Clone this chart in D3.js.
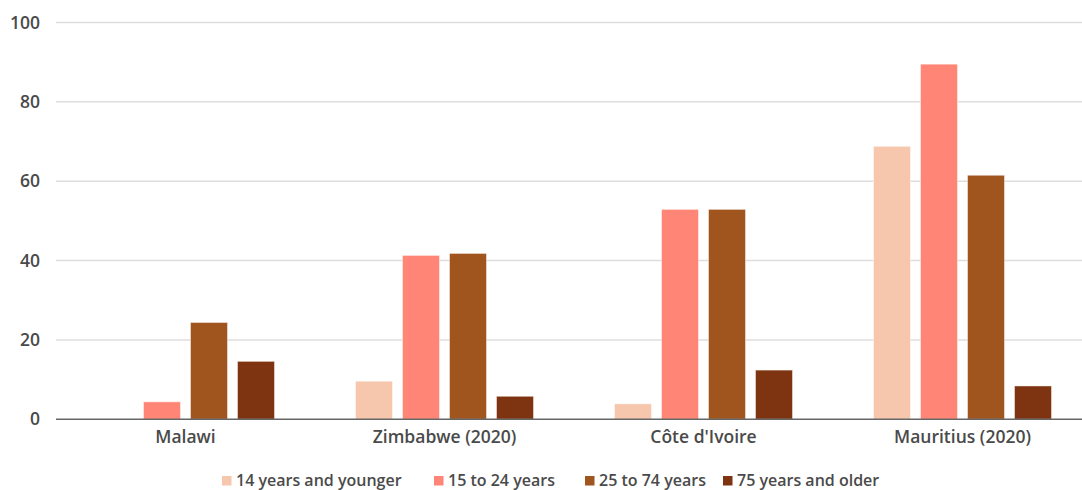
<!DOCTYPE html>
<html><head><meta charset="utf-8">
<script src="https://cdn.jsdelivr.net/npm/d3@7"></script>
<style>
body{margin:0;background:#fff;}
svg{display:block;font-family:"Open Sans",Lato,sans-serif;}
</style></head>
<body><svg id="c" width="1082" height="490"></svg>
<script>
const categories = ["Malawi", "Zimbabwe (2020)", "Côte d'Ivoire", "Mauritius (2020)"];
const seriesNames = ["14 years and younger", "15 to 24 years", "25 to 74 years", "75 years and older"];
const seriesColors = ["#F6C7AD", "#FF8676", "#A0541E", "#7F3411"];
const age14 = [0, 9.6, 3.9, 68.8];
const age15to24 = [4.4, 41.3, 52.9, 89.5];
const age25to74 = [24.4, 41.8, 52.9, 61.5];
const age75 = [14.6, 5.8, 12.4, 8.4];
const yTicks = [0, 20, 40, 60, 80, 100];

const seriesValues = [age14, age15to24, age25to74, age75];
const svg = d3.select("#c");
const mLeft = 56, mRight = 1092, mTop = 22.5, mBottom = 419.3;
const FONT = "'Open Sans', Lato, sans-serif";
const TXT = "#4a4a4a";

const x0 = d3.scaleBand().domain(categories).range([mLeft, mRight]).padding(0);
const x1 = d3.scaleBand().domain(seriesNames).range([x0.bandwidth()/2 - 94, x0.bandwidth()/2 + 94]).paddingInner(10/47).paddingOuter(5/47);
const y = d3.scaleLinear().domain([0, 100]).range([mBottom, mTop]);

// grid
svg.append("g").selectAll("line").data(yTicks.filter(d => d > 0)).join("line")
  .attr("x1", mLeft).attr("x2", 1082)
  .attr("y1", d => y(d)).attr("y2", d => y(d))
  .attr("stroke", "#dedede").attr("stroke-width", 1.5);

// y axis labels
const yAxis = d3.axisLeft(y).tickValues(yTicks).tickSize(0).tickPadding(0).tickFormat(d3.format("d"));
const ya = svg.append("g").attr("transform", `translate(40,0)`).call(yAxis);
ya.select(".domain").remove();
ya.selectAll("text").attr("font-size", 17.5).attr("font-weight", 600).attr("fill", TXT).attr("font-family", FONT);

// bars
const groups = svg.append("g").selectAll("g").data(categories).join("g")
  .attr("transform", d => `translate(${x0(d)},0)`);
groups.selectAll("rect").data((c, ci) => seriesNames.map((s, si) => ({s, si, v: seriesValues[si][ci]})).filter(d => d.v > 0))
  .join("rect")
  .attr("x", d => x1(d.s)).attr("width", x1.bandwidth())
  .attr("y", d => y(d.v)).attr("height", d => y(0) - y(d.v))
  .attr("fill", d => seriesColors[d.si])
  .attr("stroke", "rgba(255,255,255,0.45)").attr("stroke-width", 1);

// baseline
svg.append("line").attr("x1", mLeft).attr("x2", 1082).attr("y1", y(0)).attr("y2", y(0))
  .attr("stroke", "#666").attr("stroke-width", 1.5);

// x axis labels
const xAxis = d3.axisBottom(x0).tickSize(0).tickPadding(0);
const xa = svg.append("g").attr("transform", `translate(0,${y(0) + 11})`).call(xAxis);
xa.select(".domain").remove();
xa.selectAll("text").attr("font-size", 17.5).attr("font-weight", 600).attr("fill", TXT).attr("font-family", FONT);

// legend
const legX = [222, 434, 585, 723];
const leg = svg.append("g").selectAll("g").data(seriesNames).join("g")
  .attr("transform", (d, i) => `translate(${legX[i]},476)`);
leg.append("rect").attr("width", 9.5).attr("height", 9.5).attr("fill", (d, i) => seriesColors[i]);
leg.append("text").attr("x", 14).attr("y", 9.7)
  .attr("font-size", 16).attr("font-weight", 600).attr("fill", TXT).attr("font-family", FONT).text(d => d);
</script></body></html>
